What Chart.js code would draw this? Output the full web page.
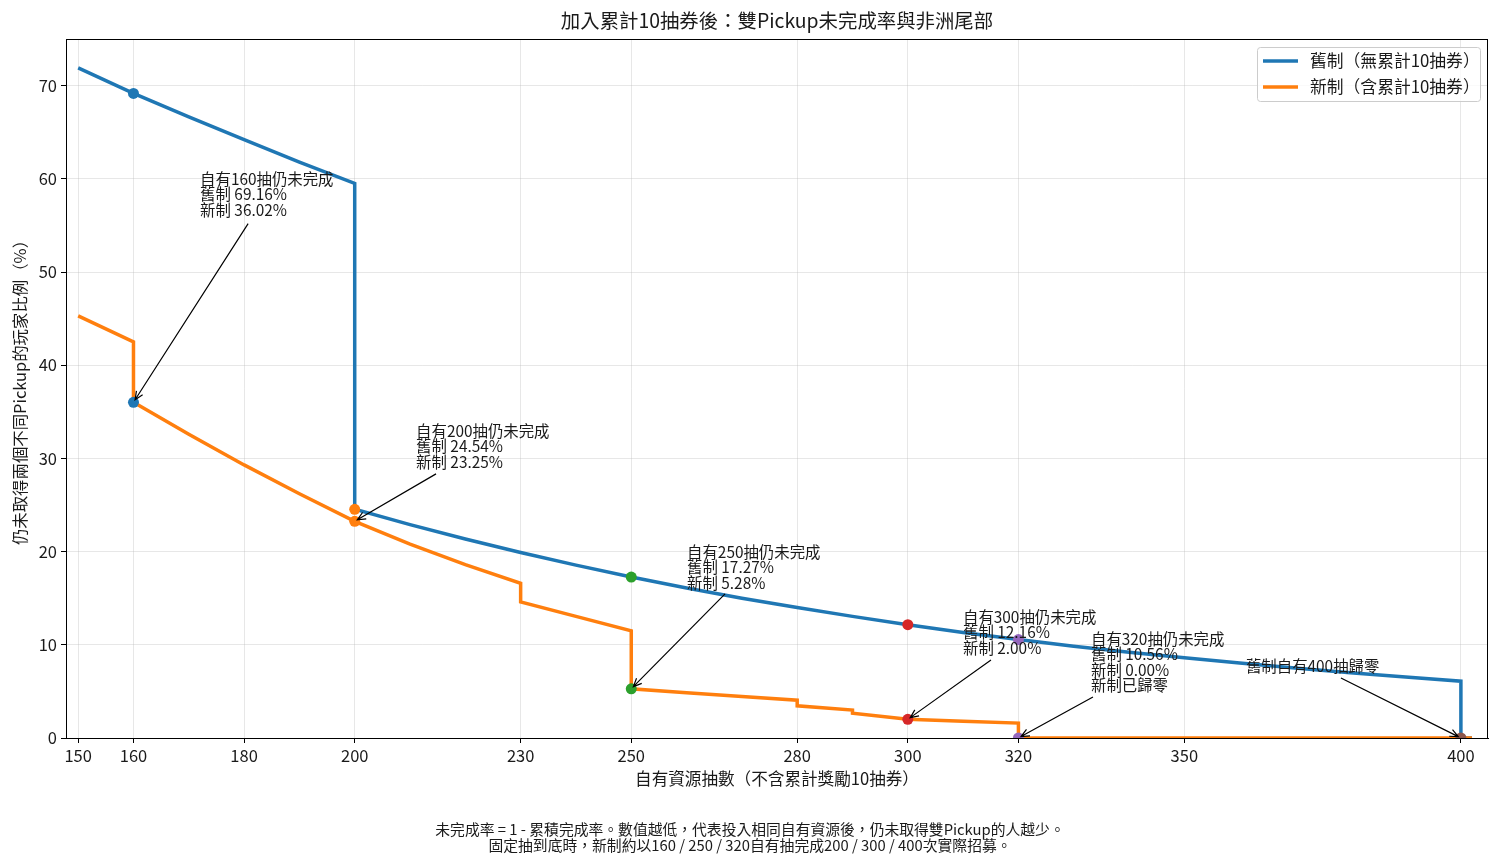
<!DOCTYPE html>
<html>
<head>
<meta charset="utf-8">
<script src="https://cdn.jsdelivr.net/npm/chart.js@4.4.1/dist/chart.umd.min.js"></script>
<style>
  html, body { margin: 0; padding: 0; background: #fff; }
  canvas { display: block; }
</style>
</head>
<body>
<canvas id="tailChart" width="1500" height="865"></canvas>
<script>
// ---- data ----
const titleText = '加入累計10抽券後：雙Pickup未完成率與非洲尾部';
const xTitle = '自有資源抽數（不含累計獎勵10抽券）';
const yTitle = '仍未取得兩個不同Pickup的玩家比例（%）';
const footerLines = [
  '未完成率 = 1 - 累積完成率。數值越低，代表投入相同自有資源後，仍未取得雙Pickup的人越少。',
  '固定抽到底時，新制約以160 / 250 / 320自有抽完成200 / 300 / 400次實際招募。'
];

const xTicks = [150, 160, 180, 200, 230, 250, 280, 300, 320, 350, 400];
const yTicks = [0, 10, 20, 30, 40, 50, 60, 70];

const seriesLabels = ['舊制（無累計10抽券）', '新制（含累計10抽券）'];

// old system (no accumulated 10-pull tickets)
const oldPulls = [150, 160, 170, 180, 190, 200, 200, 210, 220, 230, 240, 250, 260, 270, 280, 290,
  300, 310, 320, 330, 340, 350, 360, 370, 380, 390, 400, 400, 402];
const oldRate = [71.9, 69.16, 66.65, 64.2, 61.8, 59.5, 24.54, 22.9, 21.35, 19.9, 18.55, 17.27, 16.1, 15.0, 14.0, 13.05,
  12.16, 11.33, 10.56, 9.85, 9.2, 8.6, 8.05, 7.5, 7.0, 6.55, 6.1, 0, 0];

// new system (with accumulated 10-pull tickets)
const newPulls = [150, 160, 160, 170, 180, 190, 200, 210, 220, 230, 230, 240, 250, 250, 260, 270, 280, 280,
  290, 290, 300, 310, 320, 320, 402];
const newRate = [45.3, 42.5, 36.02, 32.6, 29.3, 26.2, 23.25, 20.8, 18.6, 16.6, 14.6, 13.05, 11.5, 5.28, 4.85, 4.45, 4.05, 3.45,
  3.0, 2.65, 2.0, 1.8, 1.6, 0, 0];

// highlighted checkpoints: pulls, old value, new value
const markPulls = [160, 200, 250, 300, 320, 400];
const markOld = [69.16, 24.54, 17.27, 12.16, 10.56, 0];
const markNew = [36.02, 23.25, 5.28, 2.00, 0.00, null];

// annotation texts; text anchor and arrow tail in data units
const noteLines = [
  ['自有160抽仍未完成', '舊制 69.16%', '新制 36.02%'],
  ['自有200抽仍未完成', '舊制 24.54%', '新制 23.25%'],
  ['自有250抽仍未完成', '舊制 17.27%', '新制 5.28%'],
  ['自有300抽仍未完成', '舊制 12.16%', '新制 2.00%'],
  ['自有320抽仍未完成', '舊制 10.56%', '新制 0.00%', '新制已歸零'],
  ['舊制自有400抽歸零']
];
const noteText = [[172.05, 60.0], [211.1, 32.96], [260.09, 19.97], [309.98, 12.99], [333.12, 10.63], [361.14, 7.73]];
const noteTail = [[180.73, 55.19], [214.7, 28.34], [266.96, 15.46], [315.04, 8.37], [333.48, 4.40], [378.31, 6.44]];
const noteHead = [[160, 36.02], [200, 23.25], [250, 5.28], [300, 2.0], [320, 0], [400, 0]];

// ---- styling ----
const palette = ['#1f77b4', '#ff7f0e', '#2ca02c', '#d62728', '#9467bd', '#8c564b'];
const FONT = '"Noto Sans CJK TC", "DejaVu Sans", sans-serif';
const TEXT = '#1a1a1a';

Chart.defaults.font.family = FONT;
Chart.defaults.color = TEXT;

function toPoints(xs, ys) {
  return xs.map((x, i) => ({ x: x, y: ys[i] }));
}

const markerSets = markPulls.map((p, i) => {
  const pts = [{ x: p, y: markOld[i] }];
  if (markNew[i] !== null) pts.push({ x: p, y: markNew[i] });
  return {
    type: 'scatter',
    label: 'mark' + p,
    data: pts,
    backgroundColor: palette[i],
    borderColor: palette[i],
    pointRadius: 5.5,
    pointBorderWidth: 0,
    order: 1,
    clip: 0
  };
});

/**
 * Draws frame, titles, annotations, legend and footer
 */
const decorPlugin = {
  id: 'decor',
  afterDraw(chart) {
    const { ctx, chartArea: a, scales } = chart;
    const xs = scales.x, ys = scales.y;
    ctx.save();

    // frame
    ctx.strokeStyle = '#000';
    ctx.lineWidth = 1;
    ctx.strokeRect(a.left + 0.5, a.top + 0.5, a.right - a.left - 1, a.bottom - a.top);

    const mid = (a.left + a.right) / 2;
    ctx.fillStyle = TEXT;
    ctx.textAlign = 'center';
    ctx.textBaseline = 'middle';
    ctx.font = '19.4px ' + FONT;
    ctx.fillText(titleText, mid, 21);

    ctx.font = '16.6px ' + FONT;
    ctx.fillText(xTitle, mid, 779);

    ctx.save();
    ctx.translate(20, (a.top + a.bottom) / 2);
    ctx.rotate(-Math.PI / 2);
    ctx.font = '16.4px ' + FONT;
    ctx.fillText(yTitle, 0, 0);
    ctx.restore();

    ctx.font = '14.8px ' + FONT;
    footerLines.forEach((t, i) => ctx.fillText(t, 750, 829 + i * 16));

    // annotations
    ctx.textAlign = 'left';
    ctx.font = '15.4px ' + FONT;
    noteLines.forEach((lines, i) => {
      const tx = xs.getPixelForValue(noteText[i][0]);
      const ty = ys.getPixelForValue(noteText[i][1]);
      lines.forEach((t, j) => ctx.fillText(t, tx, ty + j * 15.5));

      const x0 = xs.getPixelForValue(noteTail[i][0]);
      const y0 = ys.getPixelForValue(noteTail[i][1]);
      let x1 = xs.getPixelForValue(noteHead[i][0]);
      let y1 = ys.getPixelForValue(noteHead[i][1]);
      const ang = Math.atan2(y1 - y0, x1 - x0);
      x1 -= Math.cos(ang) * 3;
      y1 -= Math.sin(ang) * 3;
      ctx.strokeStyle = '#000';
      ctx.lineWidth = 1.2;
      ctx.beginPath();
      ctx.moveTo(x0, y0);
      ctx.lineTo(x1, y1);
      ctx.moveTo(x1 - Math.cos(ang - 0.42) * 9, y1 - Math.sin(ang - 0.42) * 9);
      ctx.lineTo(x1, y1);
      ctx.lineTo(x1 - Math.cos(ang + 0.42) * 9, y1 - Math.sin(ang + 0.42) * 9);
      ctx.stroke();
    });

    // legend
    ctx.fillStyle = 'rgba(255,255,255,0.8)';
    ctx.strokeStyle = '#cccccc';
    ctx.lineWidth = 1;
    ctx.beginPath();
    ctx.roundRect(1257.5, 47.5, 223, 54, 3);
    ctx.fill();
    ctx.stroke();
    ctx.font = '16.8px ' + FONT;
    seriesLabels.forEach((lbl, i) => {
      const y = 61 + i * 26;
      ctx.strokeStyle = palette[i];
      ctx.lineWidth = 3.5;
      ctx.beginPath();
      ctx.moveTo(1263, y);
      ctx.lineTo(1298, y);
      ctx.stroke();
      ctx.fillStyle = TEXT;
      ctx.fillText(lbl, 1310, y);
    });

    ctx.restore();
  }
};

const chart = new Chart(document.getElementById('tailChart'), {
  type: 'line',
  data: {
    datasets: [
      {
        label: seriesLabels[0],
        data: toPoints(oldPulls, oldRate),
        borderColor: palette[0],
        borderWidth: 3.5,
        pointRadius: 0,
        fill: false,
        tension: 0,
        order: 3
      },
      {
        label: seriesLabels[1],
        data: toPoints(newPulls, newRate),
        borderColor: palette[1],
        borderWidth: 3.5,
        pointRadius: 0,
        fill: false,
        tension: 0,
        order: 2
      },
      ...markerSets
    ]
  },
  options: {
    responsive: false,
    animation: false,
    devicePixelRatio: 1,
    layout: { padding: { left: 0, right: 12, top: 39, bottom: 0 } },
    plugins: {
      legend: { display: false },
      title: { display: false },
      tooltip: { enabled: false }
    },
    scales: {
      x: {
        type: 'linear',
        min: 147.8,
        max: 404.9,
        afterBuildTicks: axis => { axis.ticks = xTicks.map(v => ({ value: v })); },
        afterFit: axis => { axis.height = 127; },
        grid: { color: 'rgba(176,176,176,0.3)', tickColor: '#000', tickLength: 5 },
        border: { color: '#000', width: 1 },
        ticks: { font: { size: 16.5 }, color: TEXT, padding: 3, maxRotation: 0, autoSkip: false }
      },
      y: {
        type: 'linear',
        min: 0,
        max: 75,
        afterBuildTicks: axis => { axis.ticks = yTicks.map(v => ({ value: v })); },
        afterFit: axis => { axis.width = 66; },
        grid: { color: 'rgba(176,176,176,0.3)', tickColor: '#000', tickLength: 5 },
        border: { color: '#000', width: 1 },
        ticks: { font: { size: 16.5 }, color: TEXT, padding: 4 }
      }
    }
  },
  plugins: [decorPlugin]
});
</script>
</body>
</html>
